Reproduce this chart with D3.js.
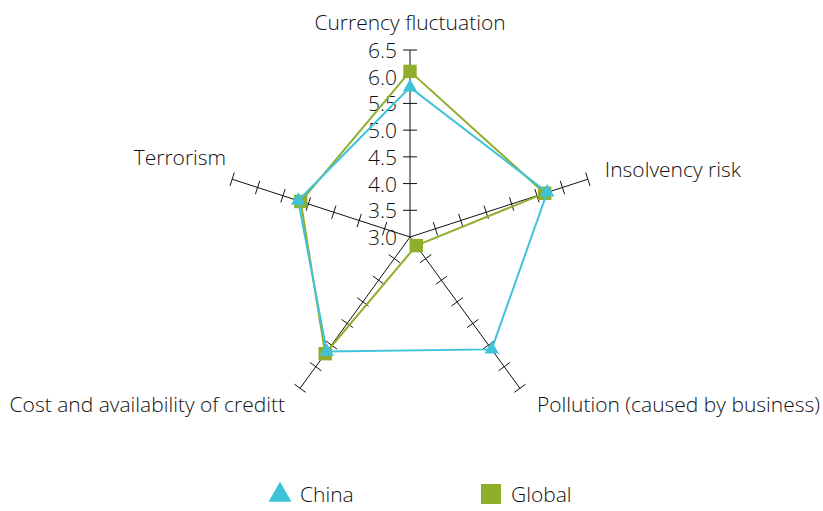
<!DOCTYPE html>
<html>
<head>
<meta charset="utf-8">
<script src="https://cdn.jsdelivr.net/npm/d3@7"></script>
<style>
  body { margin: 0; background: #fff; }
  svg text { font-family: "Open Sans", Roboto, sans-serif; font-weight: 300; fill: #111; }
</style>
</head>
<body>
<svg id="chart" width="823" height="511"></svg>
<script>
// Data
const axes = ["Currency fluctuation", "Insolvency risk", "Pollution (caused by business)",
              "Cost and availability of creditt", "Terrorism"];
const china = [5.8, 5.7, 5.6, 5.65, 5.2];
const global = [6.1, 5.65, 3.2, 5.7, 5.15];
const ticks = [3.0, 3.5, 4.0, 4.5, 5.0, 5.5, 6.0, 6.5];
const seriesNames = ["China", "Global"];

const colors = { China: "#3ec3d9", Global: "#8fae2b" };

const svg = d3.select("#chart");
const cx = 410, cy = 237, radius = 187;

const r = d3.scaleLinear().domain([3, 6.5]).range([0, radius]);
const angle = i => i * 2 * Math.PI / axes.length;
const px = (i, v) => cx + r(v) * Math.sin(angle(i));
const py = (i, v) => cy - r(v) * Math.cos(angle(i));

const g = svg.append("g");

// axes with tick marks
axes.forEach((name, i) => {
    g.append("line")
        .attr("x1", cx).attr("y1", cy)
        .attr("x2", px(i, 6.5)).attr("y2", py(i, 6.5))
        .attr("stroke", "#111").attr("stroke-width", 1);

    const a = angle(i);
    const nx = Math.cos(a), ny = Math.sin(a); // perpendicular
    ticks.slice(1).forEach(t => {
        const x = px(i, t), y = py(i, t);
        g.append("line")
            .attr("x1", x - nx * 7).attr("y1", y - ny * 7)
            .attr("x2", x + nx * 7).attr("y2", y + ny * 7)
            .attr("stroke", "#111").attr("stroke-width", 1);
    });
});

// tick labels on the first axis
g.selectAll(".tick-label")
    .data(ticks)
    .enter()
    .append("text")
    .attr("class", "tick-label")
    .attr("x", cx - 13)
    .attr("y", d => py(0, d) + 8)
    .attr("text-anchor", "end")
    .style("font-size", "21px")
    .text(d => d.toFixed(1));

// axis labels
const labelPos = [
    { dx: 0, dy: -20, anchor: "middle" },
    { dx: 17, dy: -2, anchor: "start" },
    { dx: 17, dy: 24, anchor: "start" },
    { dx: -15, dy: 24, anchor: "end" },
    { dx: -6, dy: -14, anchor: "end" }
];
axes.forEach((name, i) => {
    g.append("text")
        .attr("x", px(i, 6.5) + labelPos[i].dx)
        .attr("y", py(i, 6.5) + labelPos[i].dy)
        .attr("text-anchor", labelPos[i].anchor)
        .style("font-size", "21px")
        .text(name);
});

// series
const line = d3.line()
    .x(d => px(d.i, d.v))
    .y(d => py(d.i, d.v))
    .curve(d3.curveLinearClosed);

const series = [
    { name: "Global", values: global, symbol: d3.symbolSquare, size: 180 },
    { name: "China", values: china, symbol: d3.symbolTriangle, size: 90 }
];

series.forEach(s => {
    const pts = s.values.map((v, i) => ({ i, v }));
    g.append("path")
        .attr("d", line(pts))
        .attr("fill", "none")
        .attr("stroke", colors[s.name])
        .attr("stroke-width", 2);
    g.selectAll(".m-" + s.name)
        .data(pts)
        .enter()
        .append("path")
        .attr("transform", d => `translate(${px(d.i, d.v)},${py(d.i, d.v)})`)
        .attr("d", d3.symbol().type(s.symbol).size(s.size))
        .attr("fill", colors[s.name]);
});

// legend
const legend = svg.append("g").attr("transform", "translate(0,494)");
const legendX = { China: 280, Global: 491 };
const legendSym = { China: d3.symbolTriangle, Global: d3.symbolSquare };
const legendSize = { China: 230, Global: 400 };
seriesNames.forEach(name => {
    legend.append("path")
        .attr("transform", `translate(${legendX[name]},${name === "China" ? 1 : 0})`)
        .attr("d", d3.symbol().type(legendSym[name]).size(legendSize[name]))
        .attr("fill", colors[name]);
    legend.append("text")
        .attr("x", legendX[name] + 20)
        .attr("y", 8)
        .style("font-size", "21px")
        .text(name);
});
</script>
</body>
</html>
